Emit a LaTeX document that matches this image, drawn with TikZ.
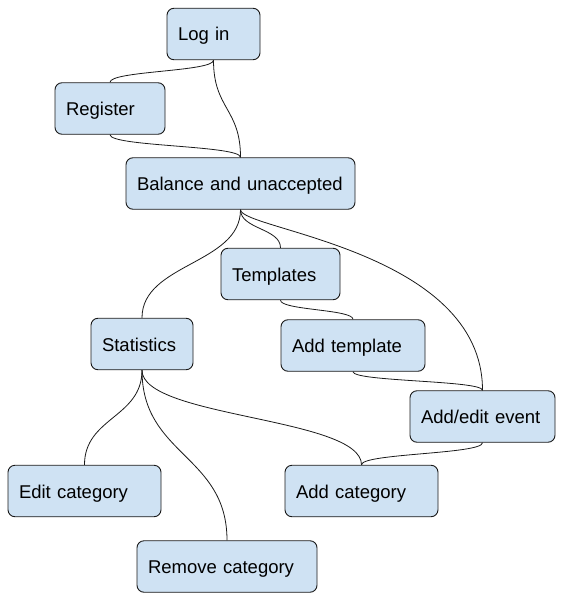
\documentclass[tikz,border=0pt]{standalone}
\usepackage{fontspec}
\setmainfont{Liberation Sans}
\definecolor{BoxClr}{HTML}{CFE2F3}
\definecolor{LineClr}{HTML}{1A1A1A}

\begin{document}
\begin{tikzpicture}[x=1pt,y=-1pt,
  box/.style={draw=LineClr,line width=0.9pt,fill=BoxClr,rounded corners=7pt,
    minimum height=51.5pt,inner xsep=11pt,inner ysep=0pt,align=left,
    text height=14pt,text depth=0pt,
    text width=#1,font=\fontsize{18.5}{22}\selectfont},
  link/.style={draw=LineClr,line width=0.8pt}]
\useasboundingbox (0,0) rectangle (561,602);

\node[box=71pt]  (login)       at (213.5,34)  {Log in};
\node[box=88pt]  (register)    at (110,108.5) {Register};
\node[box=207pt] (balance)     at (240.5,183.5) {Balance and unaccepted};
\node[box=97pt]  (templates)   at (280.5,274) {Templates};
\node[box=80pt]  (statistics)  at (142,344)   {Statistics};
\node[box=122pt] (addtemplate) at (353,345.5) {Add template};
\node[box=123pt] (event)       at (482.5,416.5) {Add/edit event};
\node[box=131pt] (editcat)     at (84.5,491)  {Edit category};
\node[box=131pt] (addcat)      at (361.5,491) {Add category};
\node[box=158pt] (removecat)   at (227,566.5) {Remove category};

% curved links, bottom of parent to top of child
\draw[link] (login.south) .. controls +(0,11.5) and +(0,-11.5) .. (register.north);
\draw[link] (login.south) .. controls +(0,49) and +(0,-49) .. (balance.north);
\draw[link] (register.south) .. controls +(0,12) and +(0,-12) .. (balance.north);

\draw[link] (balance.south) .. controls +(0,54.5) and +(0,-54.5) .. (statistics.north);
\draw[link] (balance.south) .. controls +(0,19.5) and +(0,-19.5) .. (templates.north);
\draw[link] (balance.south) .. controls +(0,20) and +(0,-140) .. (event.north);

\draw[link] (templates.south) .. controls +(0,10) and +(0,-10) .. (addtemplate.north);
\draw[link] (addtemplate.south) .. controls +(0,10) and +(0,-10) .. (event.north);
\draw[link] (event.south) .. controls +(0,11.5) and +(0,-11.5) .. (addcat.north);

\draw[link] (statistics.south) .. controls +(0,47.5) and +(0,-47.5) .. (editcat.north);
\draw[link] (statistics.south) .. controls +(0,85.5) and +(0,-85.5) .. (removecat.north);
\draw[link] (statistics.south) .. controls +(0,47.5) and +(0,-47.5) .. (addcat.north);

\end{tikzpicture}
\end{document}
